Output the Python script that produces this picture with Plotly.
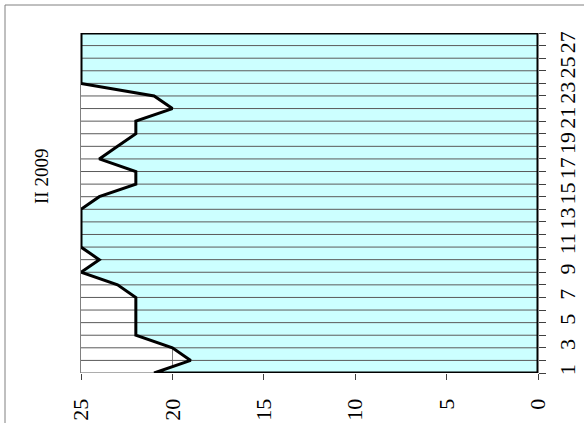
import plotly.graph_objects as go

categories = list(range(1, 29))
values = [21, 19, 20, 22, 22, 22, 22, 23, 25, 24, 25, 25, 25, 25,
          24, 22, 22, 24, 23, 22, 22, 20, 21, 25, 25, 25, 25, 25]
cat_labels = [str(c) if c % 2 == 1 else "" for c in categories]
value_ticks = [0, 5, 10, 15, 20, 25]
value_max = 25
title_text = "II 2009"

FONT = "Liberation Serif, Times New Roman, serif"

# closed polygon: baseline 0 -> series -> back to 0
poly_x = [0] + values + [0, 0]
poly_y = [categories[0]] + categories + [categories[-1], categories[0]]

# horizontal category gridlines
gx, gy = [], []
for c in categories:
    gx += [value_max, 0, None]
    gy += [c, c, None]

fig = go.Figure()
fig.add_trace(go.Scatter(x=poly_x, y=poly_y, mode="lines", fill="toself",
                         fillcolor="#CCFFFF", line=dict(width=0, color="#CCFFFF"),
                         hoverinfo="skip", showlegend=False))
fig.add_trace(go.Scatter(x=gx, y=gy, mode="lines",
                         line=dict(color="#5a5a5a", width=1),
                         hoverinfo="skip", showlegend=False))
fig.add_trace(go.Scatter(x=poly_x, y=poly_y, mode="lines",
                         line=dict(color="black", width=3),
                         hoverinfo="skip", showlegend=False))

L, R, T, B = 81, 46, 33, 50
W, H = 584, 423
pw, ph = W - L - R, H - T - B

def px(x):
    return (x - L) / pw

def py(y):
    return (H - B - y) / ph

fig.update_layout(
    width=W, height=H,
    margin=dict(l=L, r=R, t=T, b=B, pad=0, autoexpand=False),
    paper_bgcolor="white", plot_bgcolor="white",
    font=dict(family=FONT, size=22, color="black"),
    xaxis=dict(range=[value_max, 0], tickvals=value_ticks,
               ticktext=[str(v) for v in value_ticks],
               tickangle=-90, ticks="outside", ticklen=6, tickcolor="#404040",
               showgrid=True, gridcolor="#808080", gridwidth=1,
               zeroline=False, showline=False, ticklabelstandoff=10,
               layer="below traces", automargin=False),
    yaxis=dict(range=[1, 28], side="right", tickvals=categories,
               ticktext=cat_labels, tickangle=-90, ticks="outside",
               ticklen=7, tickcolor="#404040", showgrid=False,
               zeroline=False, showline=True, linecolor="#808080",
               mirror=True, layer="below traces", ticklabelstandoff=3,
               automargin=False),
    shapes=[dict(type="rect", xref="paper", yref="paper",
                 x0=px(5), x1=px(700), y0=py(600), y1=py(5),
                 line=dict(color="#808080", width=1), layer="below")],
    annotations=[dict(text=title_text, xref="paper", yref="paper",
                      x=px(41), y=py(177), xanchor="center", yanchor="middle",
                      showarrow=False, textangle=-90,
                      font=dict(family=FONT, size=19, color="black"))],
)

fig.write_html("out.html", config={"displayModeBar": False},
               post_script="document.body.style.margin='0';document.body.style.padding='0';")
